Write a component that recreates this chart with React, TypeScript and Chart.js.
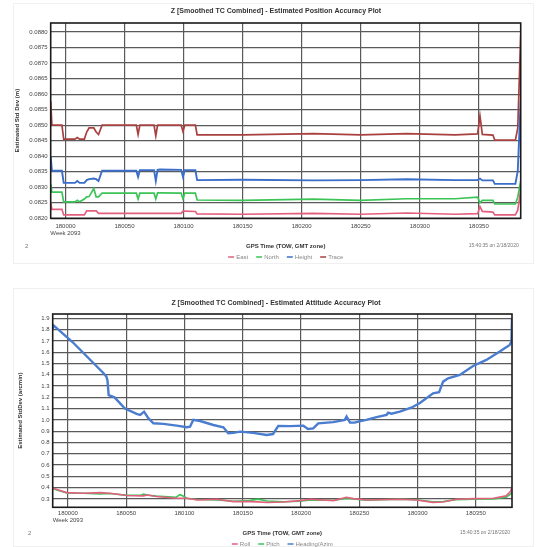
import React, { useEffect, useRef } from "react";
import { Chart, registerables } from "chart.js";
Chart.register(...registerables);

// ---------- shared axis data ----------
const X_TICKS = [180000, 180050, 180100, 180150, 180200, 180250, 180300, 180350];
const WEEK_LABEL = "Week 2093";
const X_TITLE = "GPS Time (TOW, GMT zone)";
const LEFT_NOTE = "2";
const RIGHT_NOTE = "15:40:35 on 2/18/2020";

// ---------- position accuracy (top) ----------
const POS_TITLE = "Z [Smoothed TC Combined] - Estimated Position Accuracy Plot";
const POS_Y_TITLE = "Estimated Std Dev (m)";
const POS_Y_TICKS = [0.082, 0.0825, 0.083, 0.0835, 0.084, 0.0845, 0.085, 0.0855, 0.086, 0.0865, 0.087, 0.0875, 0.088];
const POS_LABELS = ["East", "North", "Height", "Trace"];
const POS_TIME = [179987.5, 179988.5, 179997, 179998.5, 180008, 180010, 180012, 180016, 180018, 180020, 180024, 180026, 180028, 180031, 180060, 180061.5, 180063, 180075, 180076.5, 180078, 180080, 180098, 180099.5, 180101, 180110, 180111.5, 180150, 180210, 180250, 180289, 180330, 180349, 180351, 180353, 180362, 180363.5, 180381, 180383, 180385.5];
const POS_EAST = [0.0825, 0.08229, 0.08229, 0.08211, 0.08211, 0.08211, 0.08211, 0.08211, 0.08224, 0.08224, 0.08224, 0.08224, 0.08216, 0.08216, 0.08216, 0.08216, 0.08216, 0.08216, 0.08216, 0.08216, 0.08216, 0.08216, 0.08223, 0.08223, 0.08222, 0.08214, 0.08213, 0.08216, 0.08213, 0.08217, 0.08213, 0.08215, 0.08238, 0.08222, 0.0822, 0.08211, 0.08211, 0.08226, 0.0829];
const POS_NORTH = [0.0831, 0.08284, 0.08284, 0.08253, 0.08253, 0.08258, 0.08253, 0.08262, 0.08269, 0.0827, 0.08296, 0.08269, 0.08269, 0.08281, 0.08281, 0.08262, 0.08281, 0.08281, 0.08262, 0.08282, 0.08282, 0.08281, 0.08263, 0.08281, 0.08281, 0.08259, 0.08258, 0.08262, 0.08258, 0.08263, 0.08263, 0.08268, 0.0825, 0.08258, 0.08258, 0.08246, 0.08246, 0.08268, 0.0832];
const POS_HEIGHT = [0.084, 0.08353, 0.08353, 0.08314, 0.08314, 0.0832, 0.08314, 0.08314, 0.08323, 0.08326, 0.08328, 0.08326, 0.0832, 0.08353, 0.08353, 0.08333, 0.08355, 0.08355, 0.0832, 0.08356, 0.08357, 0.08356, 0.08333, 0.08355, 0.08355, 0.08323, 0.08324, 0.08322, 0.08323, 0.08326, 0.08323, 0.08323, 0.08328, 0.08322, 0.08322, 0.08311, 0.08311, 0.08352, 0.0858];
const POS_TRACE = [0.08577, 0.085, 0.085, 0.08455, 0.08455, 0.0846, 0.08455, 0.08455, 0.08478, 0.08491, 0.08491, 0.08478, 0.0847, 0.085, 0.085, 0.0847, 0.085, 0.085, 0.08465, 0.085, 0.085, 0.085, 0.0848, 0.085, 0.085, 0.08469, 0.08469, 0.08473, 0.08469, 0.08473, 0.08469, 0.08472, 0.0853, 0.0847, 0.08468, 0.08452, 0.08452, 0.0849, 0.0879];

// ---------- attitude accuracy (bottom) ----------
const ATT_TITLE = "Z [Smoothed TC Combined] - Estimated Attitude Accuracy Plot";
const ATT_Y_TITLE = "Estimated StdDev (arcmin)";
const ATT_Y_TICKS = [0.3, 0.4, 0.5, 0.6, 0.7, 0.8, 0.9, 1.0, 1.1, 1.2, 1.3, 1.4, 1.5, 1.6, 1.7, 1.8, 1.9];
const ATT_LABELS = ["Roll", "Pitch", "Heading/Azim"];
const RP_TIME = [179987.5, 179992, 179999, 180013, 180028, 180036, 180051, 180063, 180065, 180068, 180076, 180093, 180096, 180098, 180102, 180111, 180128, 180142, 180156, 180163, 180171, 180185, 180199, 180208, 180228, 180239, 180245, 180256, 180285, 180299, 180313, 180322, 180333, 180348, 180365, 180376, 180380, 180381];
const ROLL = [0.395, 0.38, 0.356, 0.35, 0.356, 0.35, 0.33, 0.327, 0.327, 0.335, 0.321, 0.306, 0.306, 0.306, 0.306, 0.291, 0.297, 0.276, 0.276, 0.274, 0.268, 0.273, 0.285, 0.297, 0.285, 0.315, 0.303, 0.291, 0.297, 0.291, 0.27, 0.273, 0.297, 0.303, 0.306, 0.327, 0.37, 0.41];
const PITCH = [0.39, 0.375, 0.352, 0.35, 0.344, 0.348, 0.332, 0.335, 0.344, 0.335, 0.325, 0.315, 0.338, 0.33, 0.306, 0.295, 0.292, 0.28, 0.285, 0.298, 0.282, 0.275, 0.28, 0.29, 0.288, 0.305, 0.3, 0.288, 0.297, 0.293, 0.275, 0.278, 0.294, 0.297, 0.3, 0.315, 0.345, 0.36];
const HDG_TIME = [179987.1, 179987.5, 180004, 180030, 180033, 180034, 180035, 180040, 180049, 180059, 180062, 180065.4, 180069, 180073.4, 180082, 180093.4, 180102, 180104.8, 180107.6, 180113.4, 180124.8, 180133.4, 180137.6, 180142, 180147.7, 180159, 180170.5, 180176, 180180.5, 180190.5, 180202, 180206, 180210.5, 180214.8, 180227.6, 180237.6, 180239.1, 180242, 180246, 180249, 180256, 180264.8, 180273.4, 180274.8, 180277.6, 180284.8, 180295, 180302, 180313.3, 180318.5, 180321.9, 180326.2, 180336.2, 180347.6, 180359, 180370.5, 180379, 180380.5, 180381];
const HEADING = [1.8, 1.84, 1.69, 1.42, 1.385, 1.35, 1.22, 1.2, 1.1, 1.053, 1.044, 1.073, 1.015, 0.97, 0.965, 0.949, 0.935, 0.94, 1.0, 0.99, 0.955, 0.935, 0.882, 0.885, 0.896, 0.885, 0.867, 0.875, 0.947, 0.945, 0.949, 0.92, 0.925, 0.97, 0.98, 1.0, 1.03, 0.976, 0.976, 0.985, 1.0, 1.024, 1.045, 1.064, 1.055, 1.073, 1.11, 1.15, 1.236, 1.245, 1.339, 1.369, 1.398, 1.478, 1.531, 1.605, 1.664, 1.693, 1.9];

const FONT = '"Liberation Sans", Arial, sans-serif';

const pts = (t: number[], v: number[]) => t.map((x, i) => ({ x, y: v[i] }));

const decorPlugin = {
  id: "decor",
  afterDraw(chart: any, _args: any, opts: any) {
    const ctx = chart.ctx as CanvasRenderingContext2D;
    const a = chart.chartArea;
    ctx.save();
    // faint frame
    if (opts.frame) {
      const [fx, fy, fw, fh] = opts.frame;
      ctx.strokeStyle = "#f0f0f0";
      ctx.lineWidth = 1;
      ctx.strokeRect(fx + 0.5, fy + 0.5, fw, fh);
    }
    // plot border
    ctx.strokeStyle = "#1a1a1a";
    ctx.lineWidth = 1.6;
    ctx.strokeRect(a.left, a.top, a.right - a.left, a.bottom - a.top);
    // title
    ctx.fillStyle = "#333";
    ctx.textAlign = "center";
    ctx.textBaseline = "middle";
    ctx.font = `bold 7px ${FONT}`;
    ctx.fillText(opts.title, opts.titleX, opts.titleY);
    // x-axis title
    ctx.font = `bold 6px ${FONT}`;
    ctx.fillText(opts.xTitle, (a.left + a.right) / 2, opts.xTitleY);
    // notes
    ctx.fillStyle = "#777";
    ctx.font = `6px ${FONT}`;
    ctx.textAlign = "left";
    ctx.fillText(opts.leftNote, opts.leftNoteX, opts.xTitleY);
    ctx.font = `5px ${FONT}`;
    ctx.textAlign = "right";
    ctx.fillText(opts.rightNote, a.right - 2, opts.xTitleY);
    // legend
    ctx.font = `6px ${FONT}`;
    const items = chart.data.datasets.map((d: any) => ({ label: d.label, color: d.borderColor, w: ctx.measureText(d.label).width }));
    const mark = 6, gap = 2, sep = 8;
    const total = items.reduce((s: number, it: any) => s + mark + gap + it.w, 0) + sep * (items.length - 1);
    let x = (a.left + a.right) / 2 - total / 2;
    ctx.textAlign = "left";
    for (const it of items) {
      ctx.strokeStyle = it.color;
      ctx.lineWidth = 1.5;
      ctx.beginPath();
      ctx.moveTo(x, opts.legendY);
      ctx.lineTo(x + mark, opts.legendY);
      ctx.stroke();
      ctx.fillStyle = "#888";
      ctx.fillText(it.label, x + mark + gap, opts.legendY);
      x += mark + gap + it.w + sep;
    }
    ctx.restore();
  },
};

function makeConfig(p: any): any {
  const tickFont = { size: 6, family: FONT };
  return {
    type: "line",
    data: { datasets: p.datasets },
    plugins: [decorPlugin],
    options: {
      animation: false,
      responsive: true,
      maintainAspectRatio: false,
      layout: { padding: { left: p.padLeft, right: p.padRight, top: p.padTop, bottom: 0 } },
      elements: { point: { radius: 0 }, line: { tension: 0 } },
      plugins: {
        legend: { display: false },
        tooltip: { enabled: false },
        decor: p.decor,
      },
      scales: {
        x: {
          type: "linear",
          min: p.xMin,
          max: p.xMax,
          afterBuildTicks: (s: any) => { s.ticks = X_TICKS.map((v) => ({ value: v })); },
          afterFit: (s: any) => { s.height = p.xHeight; },
          ticks: {
            autoSkip: false,
            maxRotation: 0,
            padding: p.xPad,
            font: tickFont,
            color: "#444",
            callback: (v: any, i: number) => (i === 0 ? [String(v), WEEK_LABEL] : String(v)),
          },
          grid: { color: "#5a5a5a", lineWidth: 1.2, drawTicks: false },
          border: { display: false },
        },
        y: {
          type: "linear",
          min: p.yMin,
          max: p.yMax,
          afterBuildTicks: (s: any) => { s.ticks = p.yTicks.map((v: number) => ({ value: v })); },
          afterFit: (s: any) => { s.width = p.yWidth; },
          ticks: {
            autoSkip: false,
            padding: 3,
            font: tickFont,
            color: "#444",
            callback: (v: any) => Number(v).toFixed(p.yDigits),
          },
          grid: { color: "#5a5a5a", lineWidth: 1.2, drawTicks: false },
          border: { display: false },
          title: { display: true, text: p.yTitle, font: { size: 6, weight: "bold", family: FONT }, color: "#333", padding: 0 },
        },
      },
    },
  };
}

const posDatasets = () => [
  { label: POS_LABELS[0], data: pts(POS_TIME, POS_EAST), borderColor: "#e2607e", borderWidth: 1.7 },
  { label: POS_LABELS[1], data: pts(POS_TIME, POS_NORTH), borderColor: "#3dc457", borderWidth: 1.7 },
  { label: POS_LABELS[2], data: pts(POS_TIME, POS_HEIGHT), borderColor: "#3a6ec9", borderWidth: 1.9 },
  { label: POS_LABELS[3], data: pts(POS_TIME, POS_TRACE), borderColor: "#a8403f", borderWidth: 1.7 },
];

const attDatasets = () => [
  { label: ATT_LABELS[0], data: pts(RP_TIME, ROLL), borderColor: "#e2607e", borderWidth: 1.6 },
  { label: ATT_LABELS[1], data: pts(RP_TIME, PITCH), borderColor: "#3dc457", borderWidth: 1.6 },
  { label: ATT_LABELS[2], data: pts(HDG_TIME, HEADING), borderColor: "#4a7ccf", borderWidth: 2.4 },
];

export default function App() {
  const ref1 = useRef<HTMLCanvasElement>(null);
  const ref2 = useRef<HTMLCanvasElement>(null);
  useEffect(() => {
    const c1 = new Chart(ref1.current as HTMLCanvasElement, makeConfig({
      datasets: posDatasets(),
      padLeft: 14, padRight: 25.3, padTop: 23,
      xMin: 179987.5, xMax: 180385.5, xHeight: 46.7, xPad: 4.4,
      yMin: 0.082, yMax: 0.08829, yTicks: POS_Y_TICKS, yDigits: 4, yWidth: 36.7, yTitle: POS_Y_TITLE,
      decor: {
        title: POS_TITLE, titleX: 276, titleY: 11,
        xTitle: X_TITLE, xTitleY: 246, leftNote: LEFT_NOTE, leftNoteX: 25, rightNote: RIGHT_NOTE,
        legendY: 257, frame: [13, 3, 520, 260],
      },
    }));
    const c2 = new Chart(ref2.current as HTMLCanvasElement, makeConfig({
      datasets: attDatasets(),
      padLeft: 16.4, padRight: 34, padTop: 32,
      xMin: 179987, xMax: 180381, xHeight: 39.7, xPad: 2.4,
      yMin: 0.226, yMax: 1.938, yTicks: ATT_Y_TICKS, yDigits: 1, yWidth: 36.3, yTitle: ATT_Y_TITLE,
      decor: {
        title: ATT_TITLE, titleX: 276, titleY: 21,
        xTitle: X_TITLE, xTitleY: 251, leftNote: LEFT_NOTE, leftNoteX: 28, rightNote: RIGHT_NOTE,
        legendY: 262, frame: [13, 6, 520, 258],
      },
    }));
    return () => { c1.destroy(); c2.destroy(); };
  }, []);
  return (
    <div style={{ position: "fixed", left: 0, top: 0, width: 546, height: 547, background: "#fff" }}>
      <div style={{ position: "absolute", left: 0, top: 0, width: 546, height: 265 }}>
        <canvas ref={ref1} />
      </div>
      <div style={{ position: "absolute", left: 0, top: 282, width: 546, height: 265 }}>
        <canvas ref={ref2} />
      </div>
    </div>
  );
}
